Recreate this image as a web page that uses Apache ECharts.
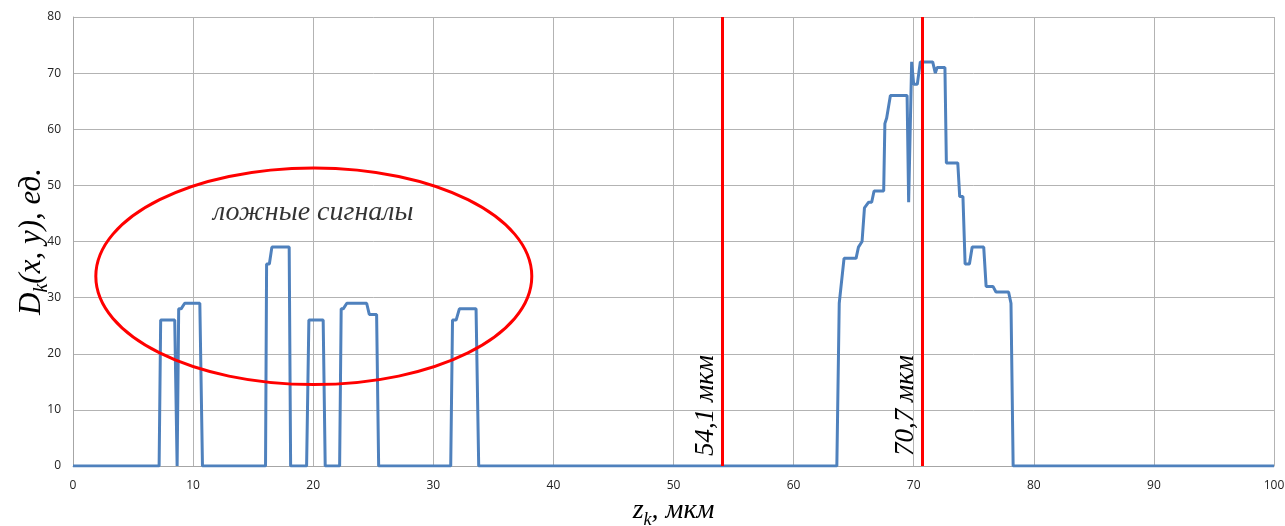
<!DOCTYPE html>
<html>
<head>
<meta charset="utf-8">
<script src="https://cdn.jsdelivr.net/npm/echarts@6/dist/echarts.min.js"></script>
<style>
  html, body { margin: 0; padding: 0; background: #fff; }
  #chart { width: 1285px; height: 526px; }
</style>
</head>
<body>
<div id="chart"></div>
<script>
// сигнал D_k(x, y) по z_k
const zValues = [
  0, 7.17, 7.3, 8.47, 8.67, 8.8, 9.0, 9.3, 10.56, 10.78,
  16.03, 16.12, 16.35, 16.56, 18.0, 18.12,
  19.45, 19.64, 20.83, 21.0,
  22.2, 22.33, 22.5, 22.8, 24.45, 24.67, 25.28, 25.45,
  31.45, 31.6, 31.9, 32.17, 33.56, 33.78,
  63.6, 63.8, 63.95, 64.2, 65.2, 65.4, 65.7, 65.9, 66.25, 66.5, 66.7, 67.5, 67.6, 67.75, 68.06,
  69.45, 69.58, 69.83, 70.0, 70.3, 70.55, 71.58, 71.8, 71.95, 72.6, 72.72, 73.67, 73.83, 74.1,
  74.28, 74.64, 74.87, 75.83, 76.03, 76.6, 76.85, 77.9, 78.1, 78.28, 100
]
const dValues = [
  0, 0, 26, 26, 0, 28, 28, 29, 29, 0,
  0, 36, 36, 39, 39, 0,
  0, 26, 26, 0,
  0, 28, 28, 29, 29, 27, 27, 0,
  0, 26, 26, 28, 28, 0,
  0, 29, 29, 37, 37, 39, 40, 46, 47, 47, 49, 49, 61, 62, 66,
  66, 47, 72, 68, 68, 72, 72, 70, 71, 71, 54, 54, 48, 48,
  36, 36, 39, 39, 32, 32, 31, 31, 29, 0, 0
]
// вертикальные отметки
const markers = [54.1, 70.7]
const markerLabels = ['54,1 мкм', '70,7 мкм']
// эллипс "ложные сигналы": центр и полуоси в единицах осей
const ellipse = [20.05, 33.8, 18.15, 19.3]
const ellipseText = 'ложные сигналы'
const ellipseTextPos = [20.0, 45.1]

const serif = 'Liberation Serif'

let myChart = echarts.init(document.getElementById('chart'))
let option = {
  animation: false,
  grid: {
    left: 73,
    right: 11,
    top: 17,
    bottom: 60,
    outerBoundsMode: 'none',
    containLabel: false
  },
  xAxis: {
    type: 'value',
    min: 0,
    max: 100,
    interval: 10,
    name: '{a|z}{s|k}{a|, мкм}',
    nameLocation: 'middle',
    nameGap: 27,
    nameTextStyle: {
      rich: {
        a: { fontFamily: serif, fontStyle: 'italic', fontSize: 28, color: '#000' },
        s: { fontFamily: serif, fontStyle: 'italic', fontSize: 18, color: '#000', padding: [18, 0, 0, 0] }
      }
    },
    axisLine: { show: true, lineStyle: { color: '#a6a6a6' } },
    axisTick: { show: false },
    axisLabel: { color: '#222', fontSize: 12, fontFamily: 'Open Sans', margin: 14 },
    splitLine: { show: true, lineStyle: { color: '#b3b3b3', width: 1 } }
  },
  yAxis: {
    type: 'value',
    min: 0,
    max: 80,
    interval: 10,
    name: '{a|D}{s|k}{a|(x, y), ед.}',
    nameLocation: 'middle',
    nameGap: 21,
    nameMoveOverlap: false,
    nameRotate: 90,
    nameTextStyle: {
      rich: {
        a: { fontFamily: serif, fontStyle: 'italic', fontSize: 31, color: '#000' },
        s: { fontFamily: serif, fontStyle: 'italic', fontSize: 20, color: '#000', padding: [20, 0, 0, 0] }
      }
    },
    axisLine: { show: true, lineStyle: { color: '#a6a6a6' } },
    axisTick: { show: false },
    axisLabel: { color: '#222', fontSize: 12, fontFamily: 'Open Sans', margin: 12 },
    splitLine: { show: true, lineStyle: { color: '#b3b3b3', width: 1 } }
  },
  series: [
    {
      name: 'D',
      type: 'line',
      data: zValues.map((z, i) => [z, dValues[i]]),
      symbol: 'none',
      lineStyle: { color: '#4f81bd', width: 3 },
      z: 3,
      markLine: {
        silent: true,
        symbol: 'none',
        lineStyle: { color: '#ff0000', width: 3, type: 'solid' },
        label: {
          show: true,
          position: 'insideStartTop',
          distance: [10, 3],
          fontFamily: serif,
          fontStyle: 'italic',
          fontSize: 27,
          color: '#000',
          formatter: (p) => markerLabels[markers.indexOf(p.value)]
        },
        data: markers.map((m) => ({ xAxis: m }))
      }
    },
    {
      name: 'ellipse',
      type: 'custom',
      silent: true,
      z: 4,
      data: [ellipse],
      renderItem: function (params, api) {
        let c = api.coord([api.value(0), api.value(1)])
        let s = api.size([api.value(2), api.value(3)])
        return {
          type: 'ellipse',
          shape: { cx: c[0], cy: c[1], rx: s[0], ry: s[1] },
          style: { fill: null, stroke: '#ff0000', lineWidth: 3 }
        }
      }
    },
    {
      name: 'text',
      type: 'scatter',
      symbolSize: 0,
      silent: true,
      data: [ellipseTextPos],
      label: {
        show: true,
        position: 'inside',
        formatter: ellipseText,
        fontFamily: serif,
        fontStyle: 'italic',
        fontSize: 28,
        color: '#000'
      }
    }
  ]
}
myChart.setOption(option)
</script>
</body>
</html>
